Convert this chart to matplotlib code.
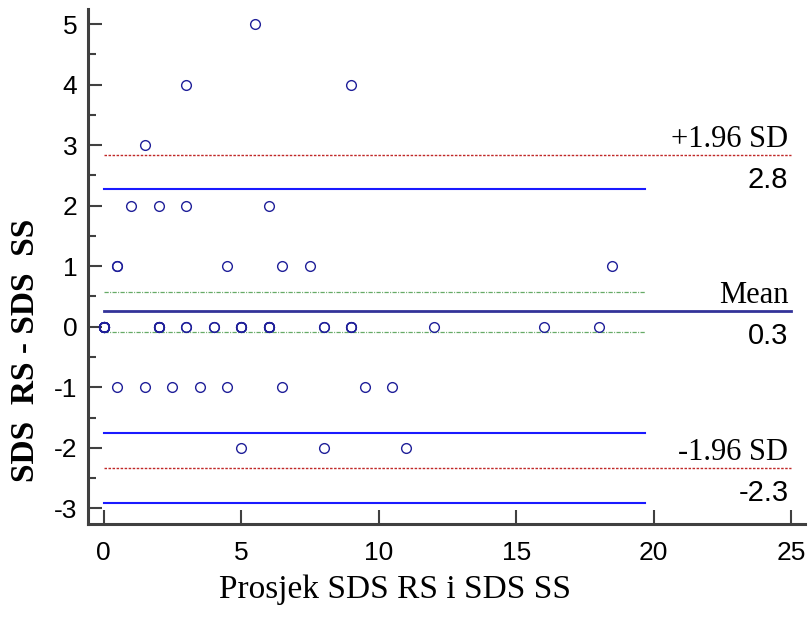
import matplotlib
matplotlib.use("Agg")
import matplotlib.pyplot as plt
from matplotlib.ticker import MultipleLocator

plt.rcParams["axes.unicode_minus"] = False

# average of the two methods (x) and their difference (y)
avg = [5.5,
       3, 9,
       1.5,
       1, 2, 3, 6,
       0.5, 0.5, 4.5, 6.5, 7.5, 18.5,
       0, 0, 0, 0, 0, 0, 0, 0, 0, 0, 2, 2, 2, 2, 2, 3, 3, 4, 4, 5, 5, 5, 5,
       6, 6, 6, 6, 6, 8, 8, 9, 9, 9, 12, 16, 18,
       0.5, 1.5, 2.5, 3.5, 4.5, 6.5, 9.5, 10.5,
       5, 8, 11]
diff = [5,
        4, 4,
        3,
        2, 2, 2, 2,
        1, 1, 1, 1, 1, 1,
        0, 0, 0, 0, 0, 0, 0, 0, 0, 0, 0, 0, 0, 0, 0, 0, 0, 0, 0, 0, 0, 0, 0,
        0, 0, 0, 0, 0, 0, 0, 0, 0, 0, 0, 0, 0,
        -1, -1, -1, -1, -1, -1, -1, -1,
        -2, -2, -2]

mean_diff = 0.26
upper_loa = 2.84
lower_loa = -2.33
mean_ci = [0.58, -0.08]
loa_ci = [2.27, -1.76, -2.92]
ci_end = 19.7
x_end = 25

label_font = "Liberation Serif"
num_font = "Liberation Sans"

fig = plt.figure(figsize=(8.1, 6.17), dpi=100)
ax = fig.add_axes([0.109, 0.1507, 0.8848, 0.8347])

# reference lines
ax.plot([0, x_end], [mean_diff, mean_diff], color="#333399", lw=2.0)
for v in [upper_loa, lower_loa]:
    ax.plot([0, x_end], [v, v], color="#c02828", lw=1.0, dashes=(1.8, 1.1))
for v in mean_ci:
    ax.plot([0, ci_end], [v, v], color="#66aa66", lw=0.9, dashes=(3.4, 1.1, 0.8, 1.1))
for v in loa_ci:
    ax.plot([0, ci_end], [v, v], color="#1a1aff", lw=1.5)

ax.plot(avg, diff, "o", mfc="none", mec="#1f1f99", mew=1.0, ms=7)

# line labels
def line_label(y, top_text, bottom_text):
    ax.annotate(top_text, (x_end, y), xytext=(-2, 5.5), textcoords="offset points",
                ha="right", va="baseline", fontsize=22, family=label_font)
    ax.annotate(bottom_text, (x_end, y), xytext=(-2, -24), textcoords="offset points",
                ha="right", va="baseline", fontsize=21, family=num_font)

line_label(upper_loa, "+1.96 SD", f"{upper_loa:.1f}")
line_label(mean_diff, "Mean", f"{mean_diff:.1f}")
line_label(lower_loa, "-1.96 SD", f"{lower_loa:.1f}")

ax.set_xlim(-0.56, 25.5)
ax.set_ylim(-3.26, 5.25)

for s in ["top", "right"]:
    ax.spines[s].set_visible(False)
for s in ["left", "bottom"]:
    ax.spines[s].set_color("#404040")
    ax.spines[s].set_linewidth(2.2)

ax.xaxis.set_major_locator(MultipleLocator(5))
ax.yaxis.set_major_locator(MultipleLocator(1))
ax.yaxis.set_minor_locator(MultipleLocator(0.5))
ax.tick_params(axis="both", which="major", direction="in", length=10, width=1.5,
               color="#404040", labelsize=19)
ax.tick_params(axis="y", which="minor", direction="in", length=6, width=1.5, color="#404040")
ax.tick_params(axis="x", pad=12)
ax.tick_params(axis="y", pad=8)
for lab in ax.get_xticklabels() + ax.get_yticklabels():
    lab.set_family(num_font)

ax.set_xlabel("Prosjek SDS RS i SDS SS", fontsize=24, family=label_font)
ax.xaxis.label.set_va("baseline")
ax.xaxis.set_label_coords(0.428, -0.1443)
ax.set_ylabel("SDS  RS - SDS  SS", fontsize=24, family=label_font, fontweight="bold")
ax.yaxis.label.set_va("center")
ax.yaxis.set_label_coords(-0.0883, 0.338)

fig.savefig("out.png", dpi=100)
